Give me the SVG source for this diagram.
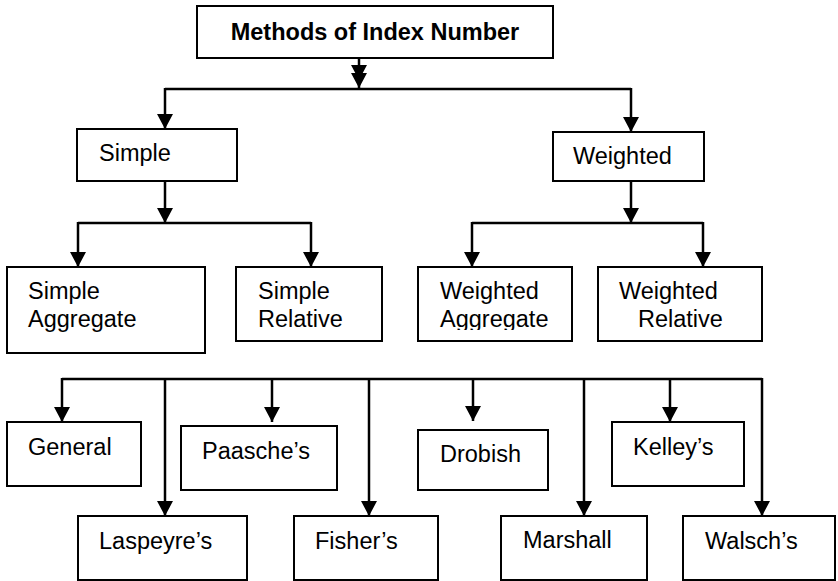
<svg xmlns="http://www.w3.org/2000/svg" width="838" height="581" viewBox="0 0 838 581">
<style>
.box{fill:#fff;stroke:#000;stroke-width:2}
.t{font-family:"Liberation Sans",Arial,sans-serif;font-size:23.5px;fill:#000}
.b{font-weight:bold}
.c{fill:none;stroke:#000;stroke-width:2.5}
</style>
<defs>
<marker id="ah" markerUnits="userSpaceOnUse" markerWidth="17" markerHeight="17" viewBox="0 0 17 17" refX="15" refY="8.5" orient="auto">
<path d="M0,0.5 L15,8.5 L0,16.5 Z" fill="#000"/>
</marker>
<clipPath id="clipWA"><rect x="418" y="267" width="154" height="63"/></clipPath>
</defs>
<rect width="838" height="581" fill="#fff"/>
<g id="connectors">
<polyline class="c" points="359,58 359,80 359,88" marker-mid="url(#ah)" marker-end="url(#ah)"/>
<line class="c" x1="165" y1="89" x2="631" y2="89"/>
<line class="c" x1="165" y1="88" x2="165" y2="129" marker-end="url(#ah)"/>
<line class="c" x1="631" y1="88" x2="631" y2="132" marker-end="url(#ah)"/>
<line class="c" x1="165" y1="181" x2="165" y2="223" marker-end="url(#ah)"/>
<line class="c" x1="78" y1="223" x2="311" y2="223"/>
<line class="c" x1="78" y1="222" x2="78" y2="267" marker-end="url(#ah)"/>
<line class="c" x1="311" y1="222" x2="311" y2="267" marker-end="url(#ah)"/>
<line class="c" x1="631" y1="181" x2="631" y2="223" marker-end="url(#ah)"/>
<line class="c" x1="472" y1="223" x2="703" y2="223"/>
<line class="c" x1="472" y1="222" x2="472" y2="267" marker-end="url(#ah)"/>
<line class="c" x1="703" y1="222" x2="703" y2="267" marker-end="url(#ah)"/>
<line class="c" x1="62" y1="379" x2="762" y2="379"/>
<line class="c" x1="62" y1="378" x2="62" y2="422" marker-end="url(#ah)"/>
<line class="c" x1="165" y1="378" x2="165" y2="516" marker-end="url(#ah)"/>
<line class="c" x1="272" y1="378" x2="272" y2="422" marker-end="url(#ah)"/>
<line class="c" x1="369" y1="378" x2="369" y2="516" marker-end="url(#ah)"/>
<line class="c" x1="473" y1="378" x2="473" y2="421" marker-end="url(#ah)"/>
<line class="c" x1="584" y1="378" x2="584" y2="516" marker-end="url(#ah)"/>
<line class="c" x1="670" y1="378" x2="670" y2="422" marker-end="url(#ah)"/>
<line class="c" x1="762" y1="378" x2="762" y2="516" marker-end="url(#ah)"/>
</g>
<g id="methods"><rect class="box" x="197" y="6" width="356" height="52"/><text class="t b" x="375" y="40" text-anchor="middle">Methods of Index Number</text></g>
<g id="simple"><rect class="box" x="77" y="129" width="160" height="52"/><text class="t" x="99" y="161">Simple</text></g>
<g id="weighted"><rect class="box" x="553" y="132" width="151" height="49"/><text class="t" x="573" y="164">Weighted</text></g>
<g id="simple-aggregate"><rect class="box" x="7" y="267" width="198" height="86"/><text class="t" x="28" y="299">Simple</text><text class="t" x="28" y="327">Aggregate</text></g>
<g id="simple-relative"><rect class="box" x="236" y="267" width="146" height="74"/><text class="t" x="258" y="299">Simple</text><text class="t" x="258" y="327">Relative</text></g>
<g id="weighted-aggregate"><rect class="box" x="418" y="267" width="154" height="74"/><g clip-path="url(#clipWA)"><text class="t" x="440" y="299">Weighted</text><text class="t" x="440" y="327">Aggregate</text></g></g>
<g id="weighted-relative"><rect class="box" x="598" y="267" width="164" height="74"/><text class="t" x="619" y="299">Weighted</text><text class="t" x="638" y="327">Relative</text></g>
<g id="general"><rect class="box" x="7" y="422" width="134" height="64"/><text class="t" x="28" y="455">General</text></g>
<g id="paasche"><rect class="box" x="181" y="426" width="156" height="64"/><text class="t" x="202" y="459">Paasche’s</text></g>
<g id="drobish"><rect class="box" x="418" y="430" width="130" height="60"/><text class="t" x="440" y="462">Drobish</text></g>
<g id="kelley"><rect class="box" x="612" y="422" width="132" height="64"/><text class="t" x="633" y="455">Kelley’s</text></g>
<g id="laspeyre"><rect class="box" x="78" y="516" width="169" height="64"/><text class="t" x="99" y="549">Laspeyre’s</text></g>
<g id="fisher"><rect class="box" x="294" y="516" width="144" height="64"/><text class="t" x="315" y="549">Fisher’s</text></g>
<g id="marshall"><rect class="box" x="501" y="516" width="146" height="64"/><text class="t" x="523" y="548">Marshall</text></g>
<g id="walsch"><rect class="box" x="683" y="516" width="152" height="64"/><text class="t" x="705" y="549">Walsch’s</text></g>
</svg>
